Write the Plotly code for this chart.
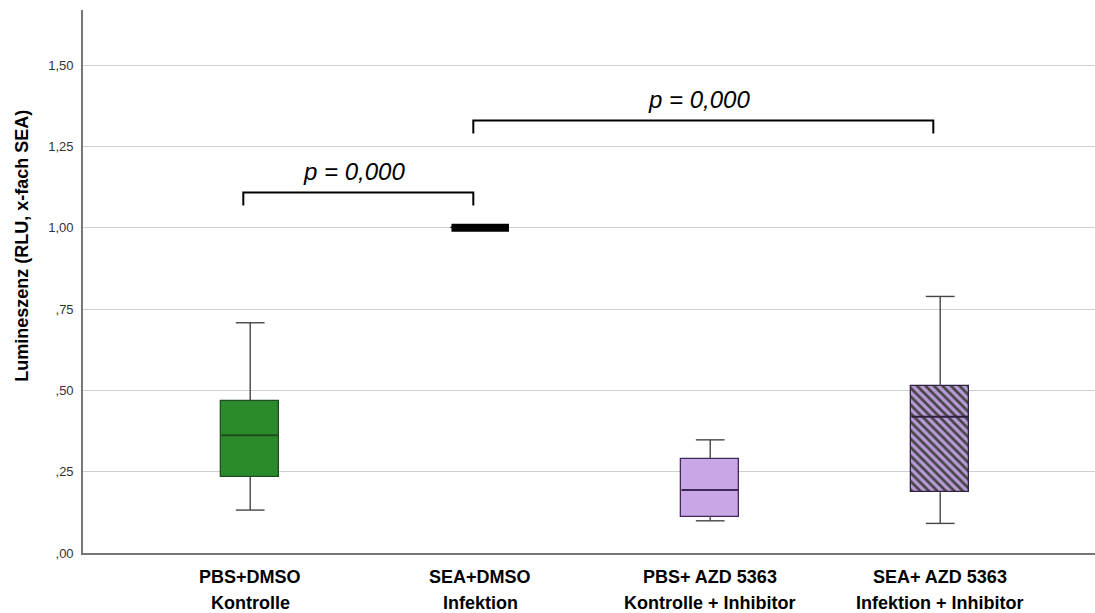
import plotly.graph_objects as go

# Group labels (two lines each)
groups_top = ["PBS+DMSO", "SEA+DMSO", "PBS+ AZD 5363", "SEA+ AZD 5363"]
groups_bottom = ["Kontrolle", "Infektion", "Kontrolle + Inhibitor", "Infektion + Inhibitor"]

# Box statistics per group
lower_whisker = [0.132, 1.000, 0.099, 0.091]
q1 = [0.234, 1.000, 0.112, 0.187]
median = [0.362, 1.000, 0.194, 0.419]
q3 = [0.468, 1.000, 0.289, 0.514]
upper_whisker = [0.708, 1.000, 0.348, 0.789]

# Significance brackets: (from group, to group, height, label)
bracket_from = [0, 1]
bracket_to = [1, 3]
bracket_y = [1.109, 1.330]
bracket_label = ["p = 0,000", "p = 0,000"]

# Y tick labels
y_tickvals = [0, 0.25, 0.5, 0.75, 1.0, 1.25, 1.5]
y_ticktext = [",00", ",25", ",50", ",75", "1,00", "1,25", "1,50"]

fill_colors = ["#2b8a2b", "#000000", "#c9a6e6", "#b89ad8"]
edge_colors = ["#1e4d1e", "#000000", "#3f2a57", "#2f2140"]
patterns = ["", "", "", "\\"]

FONT = "Liberation Sans, Arial"
BOX_W = 0.25
CAP_W = 0.125
xpos = list(range(len(groups_top)))

fig = go.Figure()

# Boxes drawn as floating bars (base = Q1, height = IQR)
fig.add_trace(go.Bar(
    x=xpos,
    y=[b - a for a, b in zip(q1, q3)],
    base=q1,
    width=BOX_W,
    marker=dict(
        color=fill_colors,
        line=dict(color=edge_colors, width=1.3),
        pattern=dict(shape=patterns, fgcolor="#2e1f40", fgopacity=1,
                     size=6, solidity=0.45, fillmode="overlay"),
    ),
    showlegend=False,
    hoverinfo="skip",
))

# Whiskers and caps
wx, wy = [], []
for x, lo, a, b, hi in zip(xpos, lower_whisker, q1, q3, upper_whisker):
    if hi > b:
        wx += [x, x, None, x - CAP_W / 2, x + CAP_W / 2, None]
        wy += [b, hi, None, hi, hi, None]
    if lo < a:
        wx += [x, x, None, x - CAP_W / 2, x + CAP_W / 2, None]
        wy += [a, lo, None, lo, lo, None]
fig.add_trace(go.Scatter(x=wx, y=wy, mode="lines",
                         line=dict(color="#454545", width=1.4),
                         showlegend=False, hoverinfo="skip"))

# Median lines (a degenerate box collapses to a thick black bar)
for x, m, a, b, ec in zip(xpos, median, q1, q3, edge_colors):
    degenerate = a == b
    fig.add_trace(go.Scatter(
        x=[x - BOX_W / 2, x + BOX_W / 2], y=[m, m], mode="lines",
        line=dict(color="#000000" if degenerate else ec, width=8 if degenerate else 2),
        showlegend=False, hoverinfo="skip"))

# Significance brackets
shapes = []
annotations = []
for g0, g1, yb, lab in zip(bracket_from, bracket_to, bracket_y, bracket_label):
    x0, x1 = g0 - 0.03, g1 - 0.03
    drop = 0.04
    shapes.append(dict(type="path", xref="x", yref="y",
                       path=f"M {x0} {yb - drop} L {x0} {yb} L {x1} {yb} L {x1} {yb - drop}",
                       line=dict(color="#000000", width=2)))
    annotations.append(dict(x=(x0 + x1) / 2 - 0.02, y=yb + 0.065, xref="x", yref="y",
                            text=f"<i>{lab}</i>", showarrow=False,
                            font=dict(family=FONT, size=24, color="#000000")))

# Two-line category labels
for x, t, b in zip(xpos, groups_top, groups_bottom):
    annotations.append(dict(x=x, y=0, xref="x", yref="paper", yshift=-24,
                            text=f"<b>{t}</b>", showarrow=False, yanchor="middle",
                            font=dict(family=FONT, size=18, color="#000000")))
    annotations.append(dict(x=x, y=0, xref="x", yref="paper", yshift=-50,
                            text=f"<b>{b}</b>", showarrow=False, yanchor="middle",
                            font=dict(family=FONT, size=18, color="#000000")))

# Y axis title
annotations.append(dict(x=0, y=0.945, xref="paper", yref="y", xshift=-61,
                        text="<b>Lumineszenz (RLU, x-fach SEA)</b>", textangle=-90,
                        showarrow=False, xanchor="center", yanchor="middle",
                        font=dict(family=FONT, size=18, color="#000000")))

fig.update_layout(
    width=1095, height=613,
    margin=dict(l=83, r=0, t=10, b=60),
    plot_bgcolor="#ffffff", paper_bgcolor="#ffffff",
    shapes=shapes, annotations=annotations,
    bargap=0,
    xaxis=dict(range=[-0.727, 3.673], showticklabels=False, showgrid=False,
               zeroline=False, showline=True, linecolor="#777777", linewidth=1.6,
               ticks="", fixedrange=True),
    yaxis=dict(range=[0, 1.67], tickvals=y_tickvals, ticktext=y_ticktext,
               showgrid=True, gridcolor="#cfcfcf", gridwidth=1,
               zeroline=False, showline=True, linecolor="#777777", linewidth=1.6,
               ticks="", ticklabelstandoff=5,
               tickfont=dict(family=FONT, size=13, color="#333333")),
)

fig.write_html("out.html")
